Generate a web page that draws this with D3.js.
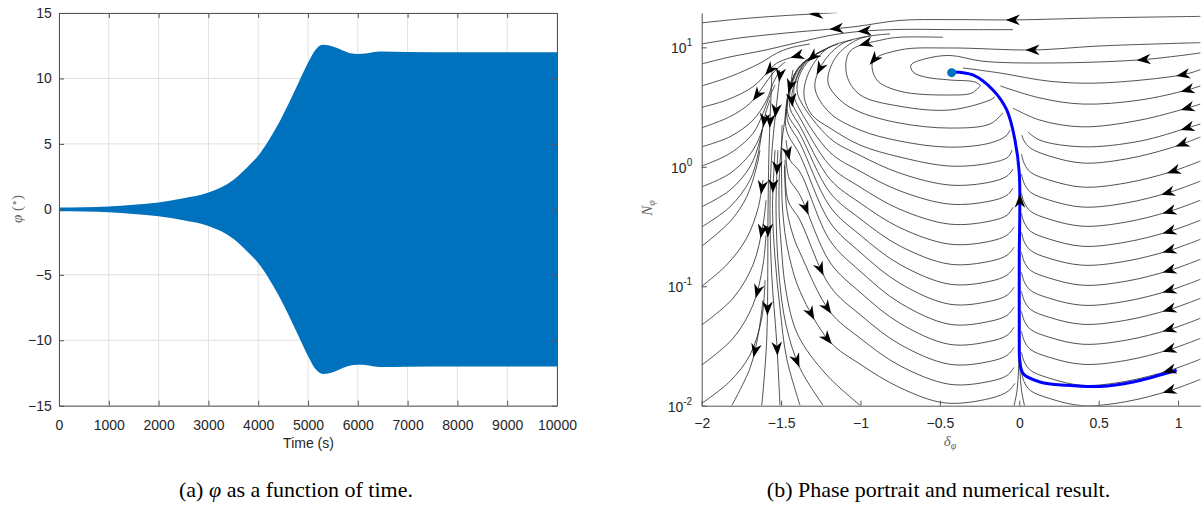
<!DOCTYPE html>
<html><head><meta charset="utf-8">
<script src="https://cdn.jsdelivr.net/npm/d3@7"></script>
<style>body{margin:0;background:#fff;}svg{display:block;}</style>
</head><body>
<svg id="c" width="1204" height="507"></svg>
<script>
// ---------------- data ----------------
const timeTicks = [0,1000,2000,3000,4000,5000,6000,7000,8000,9000,10000];
const phiTicks = [-15,-10,-5,0,5,10,15];
const envelopeTime = [0,500,1000,1500,2000,2500,3000,3500,3800,4000,4200,4400,4600,4800,5000,5150,5300,5450,5600,5750,5850,6000,6150,6450,7000,8000,9000,10000];
const envelopeAmp  = [0.15,0.17,0.22,0.35,0.52,0.84,1.28,2.25,3.3,4.1,5.2,6.5,8.0,9.6,11.2,12.2,12.58,12.5,12.3,12.05,11.92,11.87,11.9,12.05,12.02,12.0,12.0,12.0];

const deltaTicks = [-2,-1.5,-1,-0.5,0,0.5,1];
const nTicks = [0.01,0.1,1,10];
const trajectory = [[0.991,0.0198],[0.716,0.0158],[0.508,0.0145],[0.298,0.0148],[0.130,0.0158],[0.025,0.0185],[0.003,0.024],[0.0,0.035],[0.0,0.17],[0.0,0.88],[-0.027,1.67],[-0.079,2.99],[-0.166,4.39],[-0.292,5.87],[-0.418,6.22]];
const fixedPoint = [-0.426,6.14];

// streamlines: [delta, N] points in flow order
const rightLines = [
 [[1.14,1.774],[0.95,1.435],[0.67,1.161],[0.40,1.075],[0.19,1.23],[0.07,1.435],[0.03,1.65],[0.016,1.84]],
 [[1.14,1.116],[0.95,0.903],[0.67,0.731],[0.40,0.676],[0.19,0.774],[0.07,0.903],[0.03,1.075],[0.014,1.278]],
 [[1.14,0.759],[0.95,0.614],[0.67,0.497],[0.40,0.460],[0.19,0.526],[0.07,0.614],[0.03,0.731],[0.014,0.869]],
 [[1.14,0.525],[0.95,0.425],[0.67,0.344],[0.40,0.318],[0.19,0.364],[0.07,0.425],[0.03,0.506],[0.014,0.601]],
 [[1.14,0.357],[0.95,0.289],[0.67,0.234],[0.40,0.216],[0.19,0.248],[0.07,0.289],[0.03,0.344],[0.014,0.409]],
 [[1.14,0.247],[0.95,0.200],[0.67,0.162],[0.40,0.150],[0.19,0.171],[0.07,0.200],[0.03,0.238],[0.014,0.283]],
 [[1.14,0.168],[0.95,0.136],[0.67,0.110],[0.40,0.102],[0.19,0.117],[0.07,0.136],[0.03,0.162],[0.014,0.192]],
 [[1.14,0.1143],[0.95,0.0925],[0.67,0.0748],[0.40,0.0693],[0.19,0.0793],[0.07,0.0925],[0.03,0.1101],[0.014,0.1309]],
 [[1.14,0.0792],[0.95,0.0641],[0.67,0.0519],[0.40,0.0480],[0.19,0.0549],[0.07,0.0641],[0.03,0.0763],[0.014,0.0907]],
 [[1.14,0.0539],[0.95,0.0436],[0.67,0.0353],[0.40,0.0327],[0.19,0.0374],[0.07,0.0436],[0.03,0.0519],[0.014,0.0617]],
 [[1.14,0.0366],[0.95,0.0296],[0.67,0.0239],[0.40,0.0222],[0.19,0.0254],[0.07,0.0296],[0.03,0.0352],[0.014,0.0419]],
 [[1.14,0.0245],[0.95,0.0198],[0.67,0.0160],[0.40,0.0148],[0.19,0.0170],[0.07,0.0198],[0.03,0.0236],[0.014,0.0280]],
 [[1.14,0.0166],[0.95,0.0134],[0.67,0.0108],[0.40,0.0100],[0.19,0.0115],[0.07,0.0134],[0.03,0.0159],[0.014,0.0190]]
];
const upperLines = [
 [[1.14,2.28],[1.056,2.11],[0.76,1.64],[0.40,1.47],[0.13,1.67],[0.055,1.95]],
 [[1.14,3.35],[1.056,3.10],[0.76,2.46],[0.40,2.16],[0.13,2.46],[-0.04,3.10]],
 [[1.14,4.75],[1.056,4.39],[0.76,3.62],[0.40,3.35],[0.13,3.77],[-0.12,4.75]],
 [[1.14,6.50],[1.031,5.90],[0.508,5.03],[0.193,5.20],[-0.122,6.10],[-0.355,6.72]],
 [[1.14,8.98],[0.780,7.89],[0.193,7.40],[-0.229,7.65],[-0.437,8.55],[-0.594,8.0],[-0.682,7.12],[-0.669,6.22],[-0.594,5.65],[-0.437,5.33],[-0.280,5.13],[-0.241,4.75]],
 [[1.14,10.95],[0.508,10.27],[0.086,9.51],[-0.436,9.88],[-0.751,9.51],[-0.921,7.69],[-0.898,5.36],[-0.751,4.29],[-0.437,3.99],[-0.298,4.15],[-0.247,4.74]]
];
const arcLines = [
 [[-0.480,12.15],[-0.751,12.15],[-0.858,11.60],[-1.066,9.27],[-1.087,5.90],[-1.003,4.01],[-0.751,3.21],[-0.437,2.99],[-0.185,3.62],[-0.153,3.86]],
 [[-0.814,12.95],[-1.009,11.76],[-1.154,8.31],[-1.205,5.13],[-1.129,3.62],[-1.003,2.87],[-0.751,2.32],[-0.437,2.11],[-0.185,2.28],[-0.103,2.82]],
 [[-0.940,12.46],[-1.110,10.84],[-1.236,7.40],[-1.287,4.57],[-1.192,2.82],[-1.003,2.03],[-0.751,1.64],[-0.437,1.46],[-0.185,1.58],[-0.084,1.81],[-0.058,2.03]],
 [[-1.054,11.53],[-1.205,9.88],[-1.318,6.47],[-1.356,3.99],[-1.305,2.71],[-1.192,2.11],[-1.003,1.52],[-0.751,1.206],[-0.437,1.014],[-0.185,1.074],[-0.071,1.206],[-0.046,1.38]],
 [[-1.142,10.68],[-1.287,8.64],[-1.375,6.22],[-1.400,4.57],[-1.381,3.62],[-1.192,1.73],[-1.003,1.246],[-0.751,0.884],[-0.437,0.703],[-0.185,0.744],[-0.077,0.836],[-0.040,0.957]],
 [[-1.192,10.08],[-1.331,7.84],[-1.406,5.33],[-1.419,3.99],[-1.381,2.99],[-1.192,1.320],[-1.003,0.919],[-0.751,0.628],[-0.437,0.487],[-0.185,0.516],[-0.077,0.579],[-0.040,0.663]],
 [[-1.224,9.51],[-1.350,7.54],[-1.419,4.84],[-1.431,3.49],[-1.381,2.56],[-1.192,1.02],[-1.003,0.677],[-0.751,0.440],[-0.437,0.331],[-0.185,0.351],[-0.077,0.394],[-0.040,0.459]],
 [[-1.255,9.15],[-1.368,7.26],[-1.438,4.57],[-1.444,3.10],[-1.381,2.19],[-1.192,0.787],[-1.003,0.499],[-0.751,0.309],[-0.437,0.225],[-0.185,0.238],[-0.077,0.268],[-0.033,0.312]],
 [[-1.287,8.64],[-1.388,6.85],[-1.450,4.23],[-1.457,2.77],[-1.381,1.88],[-1.192,0.608],[-1.003,0.368],[-0.751,0.217],[-0.437,0.153],[-0.185,0.162],[-0.077,0.182],[-0.033,0.212]],
 [[-1.305,8.31],[-1.400,6.47],[-1.457,3.91],[-1.460,2.46],[-1.381,1.58],[-1.192,0.464],[-1.003,0.269],[-0.751,0.152],[-0.437,0.104],[-0.185,0.110],[-0.077,0.124],[-0.033,0.144]],
 [[-1.413,6.10],[-1.463,3.62],[-1.466,2.03],[-1.381,1.25],[-1.192,0.343],[-1.003,0.193],[-0.751,0.1057],[-0.437,0.0707],[-0.185,0.0749],[-0.077,0.0841],[-0.033,0.0981]],
 [[-1.469,1.674],[-1.444,1.14],[-1.381,0.903],[-1.192,0.241],[-1.003,0.134],[-0.751,0.0724],[-0.437,0.048],[-0.185,0.0509],[-0.077,0.0571],[-0.033,0.0667]],
 [[-1.472,1.38],[-1.450,0.804],[-1.381,0.579],[-1.192,0.1586],[-1.003,0.0892],[-0.751,0.0489],[-0.437,0.0326],[-0.185,0.0346],[-0.077,0.0388],[-0.033,0.0453]],
 [[-1.475,1.14],[-1.457,0.526],[-1.381,0.357],[-1.192,0.1002],[-1.003,0.0579],[-0.751,0.0326],[-0.437,0.0222],[-0.185,0.0235],[-0.077,0.0264],[-0.033,0.0308]],
 [[-1.479,1.033],[-1.463,0.434],[-1.419,0.2526],[-1.381,0.191],[-1.192,0.0612],[-1.003,0.0368],[-0.751,0.0216],[-0.437,0.0151],[-0.185,0.016],[-0.077,0.0179],[-0.033,0.0209]],
 [[-1.494,2.24],[-1.497,0.773],[-1.488,0.394],[-1.457,0.200],[-1.381,0.0908],[-1.192,0.0343],[-1.003,0.0223],[-0.751,0.01415],[-0.468,0.01055],[-0.185,0.0115],[-0.071,0.0132],[-0.027,0.0154]],
 [[-1.425,6.47],[-1.501,1.38],[-1.513,0.4506],[-1.501,0.238],[-1.469,0.0908],[-1.394,0.0391],[-1.213,0.0181],[-1.003,0.0101]],
 [[-1.520,1.38],[-1.532,0.4506],[-1.513,0.1244],[-1.469,0.0474],[-1.381,0.0206],[-1.236,0.0101]],
 [[-1.538,1.38],[-1.554,0.4506],[-1.538,0.1716],[-1.507,0.0654],[-1.465,0.0249],[-1.381,0.0101]],
 [[-1.507,5.87],[-1.557,1.38],[-1.570,0.4506],[-1.559,0.1244],[-1.528,0.0346],[-1.507,0.0101]],
 [[-1.557,6.46],[-1.576,1.38],[-1.582,0.4506],[-1.591,0.0346],[-1.622,0.0100]]
];
const leftLines = [
 [[-1.148,19.54],[-1.507,18.33],[-1.759,17.30],[-2.0,16.02]],
 [[1.14,18.16],[0.508,17.64],[-0.040,16.97],[-0.437,17.07],[-0.751,16.81],[-1.047,14.83],[-1.463,13.21],[-1.759,11.99],[-2.0,10.68]],
 [[-0.040,14.07],[-0.437,14.07],[-0.751,14.13],[-1.003,13.6],[-1.173,12.71],[-1.381,11.10],[-1.595,9.51],[-1.822,8.31],[-2.0,7.26]],
 [[-1.318,10.68],[-1.444,9.88],[-1.528,8.93],[-1.633,7.36],[-1.822,5.68],[-2.0,4.75]],
 [[-1.381,8.64],[-1.528,7.36],[-1.591,6.07],[-1.677,4.68],[-1.843,3.62],[-2.0,3.15]],
 [[-1.475,7.54],[-1.551,6.10],[-1.614,4.68],[-1.696,3.40],[-1.822,2.63],[-2.0,2.12]],
 [[-1.507,6.46],[-1.551,5.00],[-1.591,3.62],[-1.677,2.46],[-1.822,1.785],[-2.0,1.471]],
 [[-1.538,4.84],[-1.582,3.62],[-1.614,2.80],[-1.677,1.905],[-1.822,1.295],[-2.0,1.014]],
 [[-1.570,3.62],[-1.601,2.71],[-1.614,2.16],[-1.677,1.38],[-1.822,0.880],[-2.0,0.680]],
 [[-1.608,2.46],[-1.633,1.674],[-1.696,1.0],[-1.822,0.638],[-2.0,0.462]],
 [[-1.620,2.03],[-1.644,1.295],[-1.696,0.774],[-1.822,0.462],[-2.0,0.314]],
 [[-1.633,1.38],[-1.654,1.0],[-1.717,0.560],[-1.803,0.3715],[-1.885,0.289],[-2.0,0.2164]],
 [[-1.614,0.774],[-1.645,0.4506],[-1.717,0.2526],[-1.843,0.1509],[-2.0,0.100]],
 [[-1.595,0.526],[-1.614,0.3265],[-1.677,0.1509],[-1.803,0.0793],[-2.0,0.0474]],
 [[-1.595,0.268],[-1.614,0.1509],[-1.677,0.0697],[-1.803,0.0366],[-2.0,0.0219]],
 [[-1.601,0.1123],[-1.622,0.0539],[-1.696,0.0266],[-1.822,0.016],[-2.0,0.01045]],
 [[-1.614,0.0763],[-1.645,0.0388],[-1.696,0.0206],[-1.811,0.0100]],
 [[-0.033,0.0100],[-0.014,0.0134],[-0.005,0.0197],[-0.002,0.0264]],
 [[0.033,0.0100],[0.014,0.0134],[0.004,0.0197],[0.001,0.0264]]
];
const arrowMarks = [
 [1.031,5.90],[1.056,4.42],[1.056,3.10],[1.056,2.11],[1.031,1.435],[0.968,0.915],[0.930,0.614],[0.949,0.425],[0.949,0.289],[0.949,0.200],[0.949,0.136],[0.949,0.0925],[0.949,0.0641],[0.949,0.0436],[0.949,0.0296],[0.949,0.0198],[0.949,0.0134],[0.780,7.89],[0.086,9.51],[-0.040,16.97],[-0.006,0.526],
 [-1.276,19.05],[-1.150,13.73],[-0.972,13.21],[-0.961,10.08],[-0.953,8.97],
 [-1.582,6.72],[-1.394,8.47],[-1.299,8.15],[-1.276,6.85],[-1.475,6.10],[-1.444,4.75],[-1.433,3.62],[-1.645,3.91],[-1.520,2.93],[-1.601,2.42],[-1.570,2.42],[-1.444,1.303],[-1.528,0.975],[-1.614,0.663],[-1.551,0.689],[-1.370,0.434],[-1.622,0.289],[-1.582,0.289],[-1.645,0.0908],[-1.582,0.0654],[-1.633,0.0287],[-1.507,0.0304],[-1.402,0.024],[-1.244,0.1415],[-1.339,0.0571],[-1.224,0.0629],[-1.255,0.032]
];

// ---------------- drawing ----------------
const svg = d3.select("#c");
const SANS = "'Liberation Sans', Arial, Helvetica, sans-serif";
const SERIF = "'Liberation Serif', 'Times New Roman', serif";
const AX = "#555", TXT = "#262626";

function styleAxis(g){
  g.select(".domain").attr("stroke", AX).attr("stroke-width",1);
  g.selectAll(".tick line").attr("stroke", AX);
  g.selectAll(".tick text").attr("fill", TXT).attr("font-family", SANS).attr("font-size", 14);
}

// ===== Left chart =====
const xL = d3.scaleLinear().domain([0,10000]).range([59,557]);
const yL = d3.scaleLinear().domain([-15,15]).range([405.7,13]);
const gL = svg.append("g");
gL.append("g").selectAll("line").data(timeTicks).join("line")
  .attr("x1",d=>xL(d)).attr("x2",d=>xL(d)).attr("y1",yL(-15)).attr("y2",yL(15))
  .attr("stroke","#e0e0e0").attr("stroke-width",1);
gL.append("g").selectAll("line").data(phiTicks).join("line")
  .attr("y1",d=>yL(d)).attr("y2",d=>yL(d)).attr("x1",xL(0)).attr("x2",xL(10000))
  .attr("stroke","#e0e0e0").attr("stroke-width",1);
const envArea = d3.area()
  .x((d,i)=>xL(envelopeTime[i])).y0(d=>yL(-d)).y1(d=>yL(d)).curve(d3.curveMonotoneX);
gL.append("path").datum(envelopeAmp).attr("d",envArea).attr("fill","#0072BD");

gL.append("g").attr("transform",`translate(0,${yL(-15)})`)
  .call(d3.axisBottom(xL).tickValues(timeTicks).tickSize(-5).tickSizeOuter(0).tickPadding(14.4).tickFormat(d3.format("d"))).call(styleAxis);
gL.append("g").attr("transform",`translate(0,${yL(15)})`)
  .call(d3.axisTop(xL).tickValues(timeTicks).tickSize(-5).tickSizeOuter(0).tickFormat("")).call(styleAxis);
gL.append("g").attr("transform",`translate(${xL(0)},0)`)
  .call(d3.axisLeft(yL).tickValues(phiTicks).tickSize(-5).tickSizeOuter(0).tickPadding(7.3)).call(styleAxis);
gL.append("g").attr("transform",`translate(${xL(10000)},0)`)
  .call(d3.axisRight(yL).tickValues(phiTicks).tickSize(-5).tickSizeOuter(0).tickFormat("")).call(styleAxis);

gL.append("text").attr("x",308.5).attr("y",448).attr("text-anchor","middle")
  .attr("font-family",SANS).attr("font-size",14).attr("fill",TXT).text("Time (s)");
const yLab = gL.append("text").attr("transform","translate(22,209) rotate(-90)").attr("text-anchor","middle")
  .attr("font-family",SERIF).attr("font-size",15).attr("fill","#666");
yLab.append("tspan").attr("font-style","italic").text("φ");
yLab.append("tspan").text(" (");
yLab.append("tspan").attr("font-size",10).attr("dy",-5).text("∘");
yLab.append("tspan").attr("dy",5).text(")");

// ===== Right chart =====
const xR = d3.scaleLinear().domain([-2,1.14]).range([701.7,1200.3]);
const yR = d3.scaleLog().domain([0.01,19.5]).range([405.7,12.7]);
const gR = svg.append("g");
svg.append("defs").append("clipPath").attr("id","clipR").append("rect")
  .attr("x",701.7).attr("y",12.7).attr("width",1204-701.7).attr("height",405.7-12.7);

const line = d3.line().x(d=>xR(d[0])).y(d=>yR(d[1])).curve(d3.curveCatmullRom.alpha(0.5));
const plotR = gR.append("g").attr("clip-path","url(#clipR)");
const allLines = [].concat(rightLines, upperLines, arcLines, leftLines);
const paths = plotR.append("g").selectAll("path").data(allLines).join("path")
  .attr("d",line).attr("fill","none").attr("stroke","#262626").attr("stroke-width",0.8);

const trajPath = plotR.append("path").datum(trajectory).attr("d",line)
  .attr("fill","none").attr("stroke","#0000ff").attr("stroke-width",3).attr("stroke-linejoin","round");
plotR.append("circle").attr("cx",xR(fixedPoint[0])).attr("cy",yR(fixedPoint[1])).attr("r",4.5).attr("fill","#0072BD");

// arrowheads: snapped to the nearest drawn streamline, oriented along flow
const nodes = paths.nodes().concat([trajPath.node()]);
const samples = [];
nodes.forEach((p,i)=>{ const L=p.getTotalLength(); for(let s=0;s<=L;s+=1.5){ const q=p.getPointAtLength(s); samples.push([q.x,q.y,i,s]); } });
const arrowG = plotR.append("g");
arrowMarks.forEach(a=>{
  const ax=xR(a[0]), ay=yR(a[1]);
  let best=null, bd=Infinity;
  for(const s of samples){ const d=(s[0]-ax)**2+(s[1]-ay)**2; if(d<bd){bd=d;best=s;} }
  const p=nodes[best[2]], L=p.getTotalLength();
  const p1=p.getPointAtLength(Math.max(0,best[3]-3)), p2=p.getPointAtLength(Math.min(L,best[3]+3));
  const ang=Math.atan2(p2.y-p1.y,p2.x-p1.x)*180/Math.PI;
  arrowG.append("path").attr("d","M7,0L-7,-5.3L-2.8,0L-7,5.3Z").attr("fill","#000")
    .attr("transform",`translate(${best[0]},${best[1]}) rotate(${ang})`);
});

gR.append("g").attr("transform",`translate(0,${yR(0.01)})`)
  .call(d3.axisBottom(xR).tickValues(deltaTicks).tickSize(-5).tickSizeOuter(0).tickPadding(12.8).tickFormat(d3.format("~g"))).call(styleAxis);
const axY = gR.append("g").attr("transform",`translate(${xR(-2)},0)`)
  .call(d3.axisLeft(yR).tickValues(nTicks).tickSize(-5).tickSizeOuter(0).tickFormat(()=>"")).call(styleAxis);
axY.selectAll(".tick").each(function(d){
  const t=d3.select(this).append("text").attr("x",-9.5).attr("y",5.5).attr("text-anchor","end")
    .attr("font-family",SANS).attr("font-size",14).attr("fill",TXT);
  t.append("tspan").text("10");
  t.append("tspan").attr("font-size",10).attr("dy",-7).text(String(Math.round(Math.log10(d))));
});

const nLab = gR.append("text").attr("transform","translate(652,208) rotate(-90)").attr("text-anchor","middle")
  .attr("font-family",SERIF).attr("font-size",15).attr("fill","#666");
nLab.append("tspan").attr("font-style","italic").text("N");
nLab.append("tspan").attr("font-style","italic").attr("font-size",10).attr("dy",3).text("φ");
const dLab = gR.append("text").attr("x",950).attr("y",446).attr("text-anchor","middle")
  .attr("font-family",SERIF).attr("font-size",15).attr("fill","#666");
dLab.append("tspan").attr("font-style","italic").text("δ");
dLab.append("tspan").attr("font-style","italic").attr("font-size",10).attr("dy",3).text("φ");

// ===== captions =====
const capA = svg.append("text").attr("x",296).attr("y",497).attr("text-anchor","middle")
  .attr("font-family",SERIF).attr("font-size",22).attr("fill","#000");
capA.append("tspan").text("(a) ");
capA.append("tspan").attr("font-style","italic").text("φ");
capA.append("tspan").text(" as a function of time.");
svg.append("text").attr("x",938.5).attr("y",497).attr("text-anchor","middle")
  .attr("font-family",SERIF).attr("font-size",22).attr("fill","#000")
  .text("(b) Phase portrait and numerical result.");
</script>
</body></html>
